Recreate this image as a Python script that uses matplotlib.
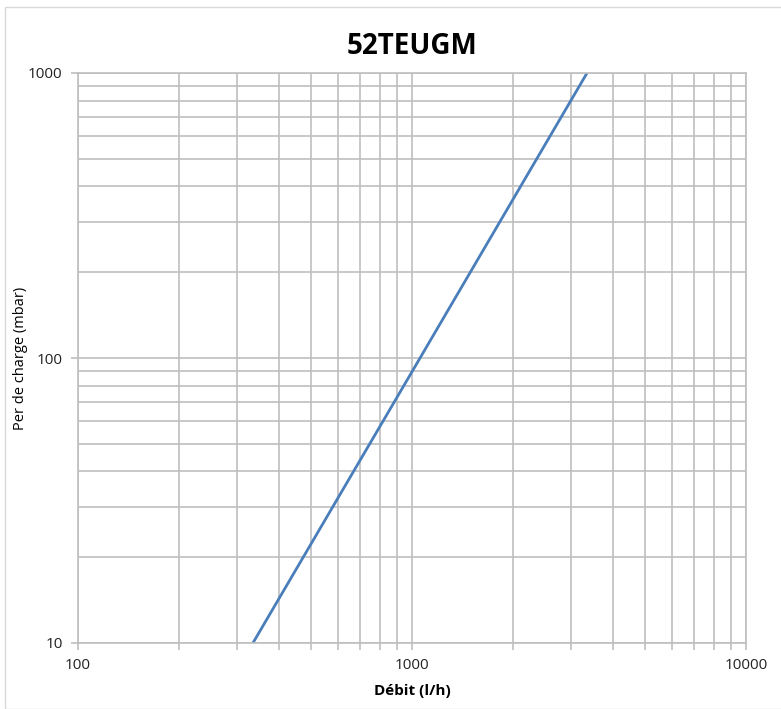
import matplotlib
matplotlib.use("Agg")
import matplotlib.pyplot as plt
from matplotlib.ticker import LogLocator, FixedLocator, NullFormatter, FixedFormatter
from matplotlib.patches import Rectangle

flow = [334, 500, 1000, 2000, 3342]
pressure = [10.0, 22.4, 89.5, 358, 1000]
x_ticks = [100, 1000, 10000]
y_ticks = [10, 100, 1000]

plt.rcParams['font.family'] = ['Open Sans', 'DejaVu Sans']

fig = plt.figure(figsize=(7.81, 7.09), dpi=100)
ax = fig.add_axes([78/781, 1-643/709, (746-78)/781, (643-73)/709])
fig.patches.append(Rectangle((5/781, 0), 1, 1-7/709, transform=fig.transFigure,
                             fill=False, edgecolor='#d9d9d9', lw=1))

ax.plot(flow, pressure, color='#4a7ebb', lw=2, solid_capstyle='butt')
ax.set_xscale('log')
ax.set_yscale('log')
ax.set_xlim(100, 10000)
ax.set_ylim(10, 1000)

ax.xaxis.set_major_locator(FixedLocator(x_ticks))
ax.xaxis.set_major_formatter(FixedFormatter([str(v) for v in x_ticks]))
ax.yaxis.set_major_locator(FixedLocator(y_ticks))
ax.yaxis.set_major_formatter(FixedFormatter([str(v) for v in y_ticks]))
ax.xaxis.set_minor_locator(LogLocator(base=10, subs=range(2, 10)))
ax.yaxis.set_minor_locator(LogLocator(base=10, subs=range(2, 10)))
ax.xaxis.set_minor_formatter(NullFormatter())
ax.yaxis.set_minor_formatter(NullFormatter())

gc = '#bfbfbf'
ax.grid(True, which='both', color=gc, lw=1.2)
ax.set_axisbelow(True)
for s in ax.spines.values():
    s.set_color(gc)
    s.set_linewidth(1.2)
ax.tick_params(which='major', length=5, color=gc, width=1.2, labelsize=11, pad=6, labelcolor='#222222')
ax.tick_params(which='minor', axis='x', length=5, color=gc, width=1.2)
ax.tick_params(which='minor', axis='y', length=0)

ax.set_title('52TEUGM', fontsize=20, fontweight='bold', pad=14)
ax.set_xlabel('Débit (l/h)', fontsize=11, fontweight='bold', labelpad=8)
ax.set_ylabel('Per de charge (mbar)', fontsize=10.5)
ax.yaxis.set_label_coords(-0.075, 0.5)

fig.savefig('out.png', dpi=100)
